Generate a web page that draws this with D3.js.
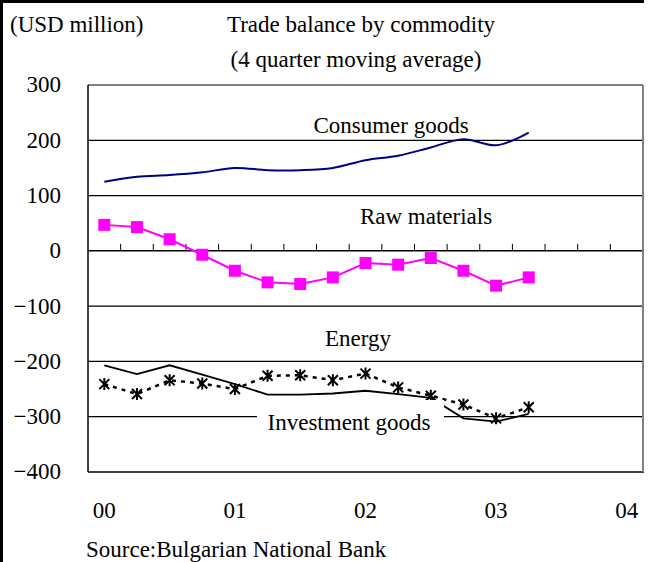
<!DOCTYPE html>
<html>
<head>
<meta charset="utf-8">
<script src="https://cdn.jsdelivr.net/npm/d3@7/dist/d3.min.js"></script>
<style>
  html, body { margin: 0; padding: 0; background: #fff; }
  svg { display: block; }
  text { font-family: "Liberation Serif", "Times New Roman", serif; fill: #000; }
</style>
</head>
<body>
<svg id="chart" width="652" height="562"></svg>
<script>
// ---- data ----
const quarters = ["00Q1","00Q2","00Q3","00Q4","01Q1","01Q2","01Q3","01Q4",
                  "02Q1","02Q2","02Q3","02Q4","03Q1","03Q2","03Q3","03Q4","04Q1"];
const yearLabels = ["00","01","02","03","04"];
const yearQuarters = ["00Q1","01Q1","02Q1","03Q1","04Q1"];
const yTicks = [300,200,100,0,-100,-200,-300,-400];

const consumerGoods   = [125,134,137,142,150,146,146,150,164,172,187,202,191,214];
const rawMaterials    = [47,43,21,-7,-36,-57,-60,-48,-22,-25,-13,-36,-63,-48];
const energy          = [-207,-223,-207,-224,-241,-260,-260,-258,-253,-259,-266,-303,-309,-295];
const investmentGoods = [-241,-259,-234,-240,-250,-226,-225,-234,-222,-247,-262,-278,-303,-283];

const seriesLabels = ["Consumer goods","Raw materials","Energy","Investment goods"];

// ---- layout ----
const svg = d3.select("#chart");
const L = 88, R = 643, T = 85, B = 472;
const FONT = 23;

const x = d3.scaleBand().domain(quarters).range([L, R]).paddingInner(0).paddingOuter(0);
const y = d3.scaleLinear().domain([-400, 300]).range([B, T]);
const cx = d => x(d) + x.bandwidth() / 2;

// outer frame (left and top)
svg.append("line").attr("x1", 1.5).attr("x2", 1.5).attr("y1", 0).attr("y2", 562)
  .attr("stroke", "#000").attr("stroke-width", 3);
svg.append("line").attr("x1", 0).attr("x2", 644).attr("y1", 1.5).attr("y2", 1.5)
  .attr("stroke", "#000").attr("stroke-width", 3);

// titles
svg.append("text").attr("x", 10).attr("y", 32).attr("font-size", FONT).text("(USD million)");
svg.append("text").attr("x", 361).attr("y", 32).attr("text-anchor", "middle").attr("font-size", FONT)
  .text("Trade balance by commodity");
svg.append("text").attr("x", 356).attr("y", 67).attr("text-anchor", "middle").attr("font-size", FONT)
  .text("(4 quarter moving average)");

// gridlines
const g = svg.append("g");
g.selectAll("line.grid").data(yTicks.filter(v => v !== 300 && v !== -400 && v !== 0))
  .join("line").attr("class", "grid")
  .attr("x1", L).attr("x2", R).attr("y1", d => y(d)).attr("y2", d => y(d))
  .attr("stroke", "#000").attr("stroke-width", 1.2);

// y axis labels
const yAxis = d3.axisLeft(y).tickValues(yTicks).tickSize(0).tickPadding(0).tickFormat(d3.format("d"));
const ya = svg.append("g").attr("transform", `translate(61,0)`).call(yAxis);
ya.select(".domain").remove();
ya.selectAll("text").attr("font-size", FONT).attr("font-family", "Liberation Serif")
  .attr("dy", "0.3em").attr("fill", "#000");

// zero line with between-category ticks (pointing up)
svg.append("line").attr("x1", L).attr("x2", R).attr("y1", y(0)).attr("y2", y(0))
  .attr("stroke", "#000").attr("stroke-width", 1.5);
svg.selectAll("line.qtick").data(quarters.slice(1).concat(["end"]))
  .join("line").attr("class", "qtick")
  .attr("x1", (d, i) => x(quarters[0]) + x.bandwidth() * (i + 1))
  .attr("x2", (d, i) => x(quarters[0]) + x.bandwidth() * (i + 1))
  .attr("y1", y(0)).attr("y2", y(0) - 7)
  .attr("stroke", "#000").attr("stroke-width", 1);

// x labels
svg.selectAll("text.xl").data(yearLabels).join("text").attr("class", "xl")
  .attr("x", (d, i) => cx(yearQuarters[i])).attr("y", 518)
  .attr("text-anchor", "middle").attr("font-size", FONT).text(d => d);

// series
const curveSmooth = d3.curveCatmullRom.alpha(0.5);
const mk = (vals, curve) => d3.line().x((d, i) => cx(quarters[i])).y(d => y(d)).curve(curve)(vals);

svg.append("path").attr("d", mk(consumerGoods, curveSmooth))
  .attr("fill", "none").attr("stroke", "#000080").attr("stroke-width", 2);

svg.append("path").attr("d", mk(rawMaterials, d3.curveLinear))
  .attr("fill", "none").attr("stroke", "#ff00ff").attr("stroke-width", 2);
svg.selectAll("rect.rm").data(rawMaterials).join("rect").attr("class", "rm")
  .attr("x", (d, i) => cx(quarters[i]) - 6).attr("y", d => y(d) - 6)
  .attr("width", 12).attr("height", 12).attr("fill", "#ff00ff");

svg.append("path").attr("d", mk(energy, d3.curveLinear))
  .attr("fill", "none").attr("stroke", "#000").attr("stroke-width", 1.8);

svg.append("path").attr("d", mk(investmentGoods, d3.curveLinear))
  .attr("fill", "none").attr("stroke", "#000").attr("stroke-width", 2.5)
  .attr("stroke-dasharray", "4,5");
svg.selectAll("path.star").data(investmentGoods).join("path").attr("class", "star")
  .attr("transform", (d, i) => `translate(${cx(quarters[i])},${y(d)})`)
  .attr("d", "M-5,-5L5,5M-5,5L5,-5M0,-6L0,6")
  .attr("stroke", "#000").attr("stroke-width", 2).attr("fill", "none");

// series labels
svg.append("text").attr("x", 391).attr("y", 133).attr("text-anchor", "middle").attr("font-size", FONT)
  .text(seriesLabels[0]);
svg.append("text").attr("x", 426).attr("y", 224).attr("text-anchor", "middle").attr("font-size", FONT)
  .text(seriesLabels[1]);
svg.append("text").attr("x", 358).attr("y", 346).attr("text-anchor", "middle").attr("font-size", FONT)
  .text(seriesLabels[2]);
svg.append("rect").attr("x", 257).attr("y", 400).attr("width", 187).attr("height", 40).attr("fill", "#fff");
svg.append("text").attr("x", 349).attr("y", 430).attr("text-anchor", "middle").attr("font-size", FONT)
  .text(seriesLabels[3]);

// plot frame
svg.append("line").attr("x1", L).attr("x2", R).attr("y1", T).attr("y2", T).attr("stroke", "#000").attr("stroke-width", 1.2);
svg.append("line").attr("x1", L).attr("x2", R + 1).attr("y1", B).attr("y2", B).attr("stroke", "#000").attr("stroke-width", 1.5);
svg.append("line").attr("x1", L).attr("x2", L).attr("y1", T).attr("y2", B).attr("stroke", "#000").attr("stroke-width", 1.5);
svg.append("line").attr("x1", R).attr("x2", R).attr("y1", T).attr("y2", B).attr("stroke", "#808080").attr("stroke-width", 2);

// source
svg.append("text").attr("x", 86).attr("y", 557).attr("font-size", FONT).text("Source:Bulgarian National Bank");
</script>
</body>
</html>
